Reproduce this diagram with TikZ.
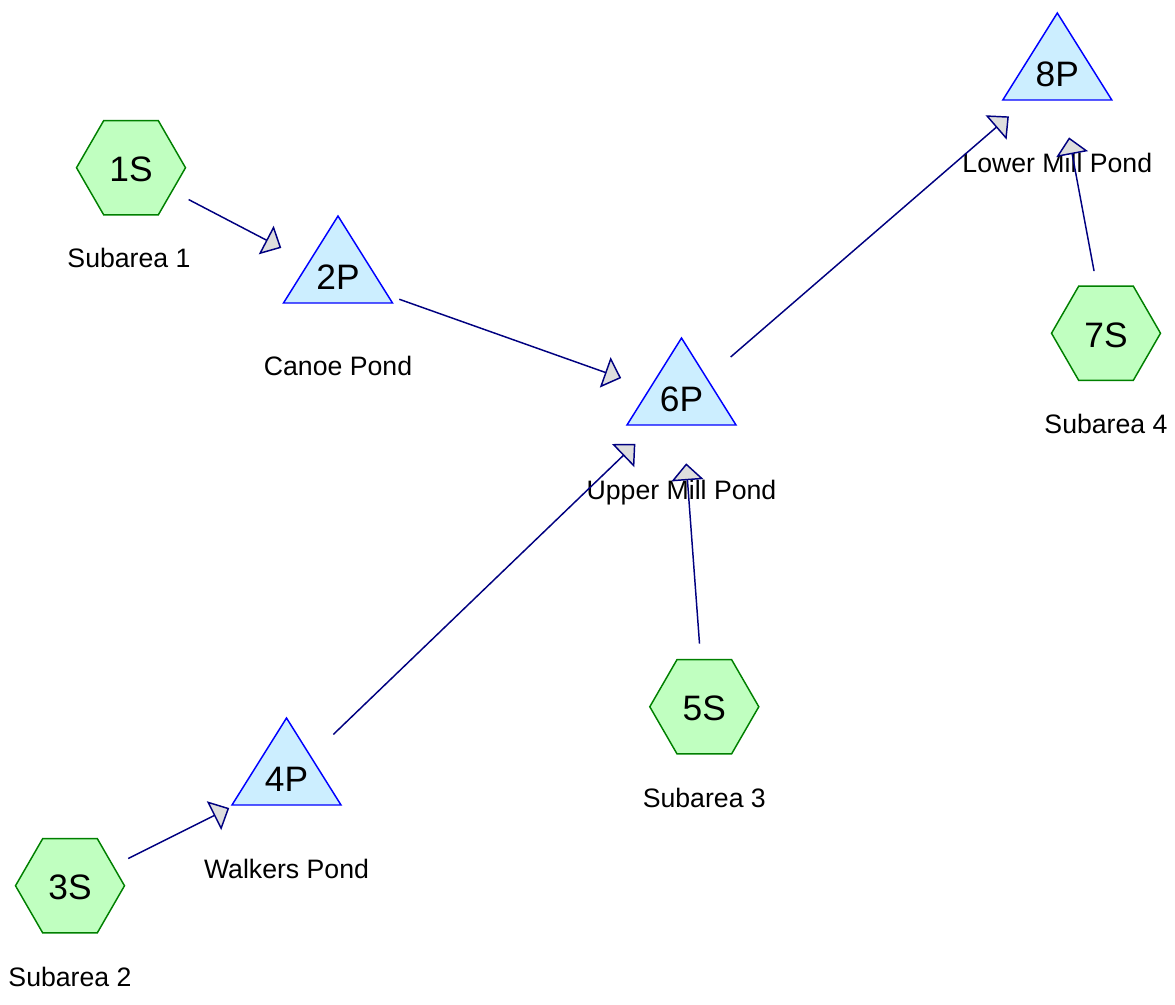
\documentclass[tikz,border=0pt]{standalone}
\usepackage{fontspec}
\setmainfont{Liberation Sans}
\usetikzlibrary{arrows.meta,calc}
\definecolor{hexfill}{HTML}{C0FFC0}
\definecolor{hexline}{HTML}{008000}
\definecolor{pondfill}{HTML}{CCEEFF}
\definecolor{pondline}{HTML}{0000FF}
\definecolor{linkline}{HTML}{000080}
\definecolor{tipfill}{HTML}{DDDDDD}
\pgfdeclarelayer{bg}
\pgfsetlayers{bg,main}
\newcommand\hexat[1]{\draw[hexshape] ($(#1)+(54.5,-1.75)$) -- ($(#1)+(27.25,45.45)$) -- ($(#1)+(-27.25,45.45)$) -- ($(#1)+(-54.5,-1.75)$) -- ($(#1)+(-27.25,-48.95)$) -- ($(#1)+(27.25,-48.95)$) -- cycle;}
\newcommand\pondat[1]{\draw[pondshape] ($(#1)+(0,-61.5)$) -- ($(#1)+(54.5,25.5)$) -- ($(#1)+(-54.5,25.5)$) -- cycle;}
\begin{document}
\begin{tikzpicture}[x=0.75pt,y=-0.75pt,
  idtext/.style={inner sep=0pt, font=\fontsize{26.5}{30}\selectfont},
  lbl/.style={inner sep=0pt, anchor=base, font=\fontsize{20}{24}\selectfont},
  hexshape/.style={draw=hexline, fill=hexfill, line width=1.1pt, line join=miter},
  pondshape/.style={draw=pondline, fill=pondfill, line width=1.1pt, line join=miter},
  link/.style={draw=linkline, line width=1.1pt, shorten <=48.75pt, shorten >=48pt,
    -{Triangle[length=12.75pt,width=24pt,fill=tipfill]}}
]
\useasboundingbox (0,0) rectangle (1175,1005);

% node texts
\node[idtext] (n1S) at (131,169.5) {1S};
\node[idtext] (n2P) at (338,277.5) {2P};
\node[idtext] (n3S) at (70,887.5) {3S};
\node[idtext] (n4P) at (286.5,779.5) {4P};
\node[idtext] (n5S) at (704.3,708.5) {5S};
\node[idtext] (n6P) at (681.5,399.5) {6P};
\node[idtext] (n7S) at (1106,335) {7S};
\node[idtext] (n8P) at (1057.3,74.5) {8P};

% shapes behind texts
\begin{pgfonlayer}{bg}
\hexat{n1S}
\hexat{n3S}
\hexat{n5S}
\hexat{n7S}
\pondat{n2P}
\pondat{n4P}
\pondat{n6P}
\pondat{n8P}
\end{pgfonlayer}

% labels
\node[lbl] (l1S) at ($(n1S)+(-2,98.5)$) {Subarea 1};
\node[lbl] (l2P) at ($(n2P)+(0,98.5)$) {Canoe Pond};
\node[lbl] (l3S) at ($(n3S)+(0,98.5)$) {Subarea 2};
\node[lbl] (l4P) at ($(n4P)+(0,98.5)$) {Walkers Pond};
\node[lbl] (l5S) at ($(n5S)+(0,99)$) {Subarea 3};
\node[lbl] (l6P) at ($(n6P)+(0,99.5)$) {Upper Mill Pond};
\node[lbl] (l7S) at ($(n7S)+(0,98.5)$) {Subarea 4};
\node[lbl] (l8P) at ($(n8P)+(0,98)$) {Lower Mill Pond};

% connectors
\draw[link] (n1S.center) -- (n2P.center);
\draw[link] (n2P.center) -- (n6P.center);
\draw[link] (n3S.center) -- (n4P.center);
\draw[link] (n4P.center) -- (n6P.center);
\draw[link] (n5S.center) -- (n6P.center);
\draw[link] (n6P.center) -- (n8P.center);
\draw[link] (n7S.center) -- (n8P.center);
\end{tikzpicture}
\end{document}
